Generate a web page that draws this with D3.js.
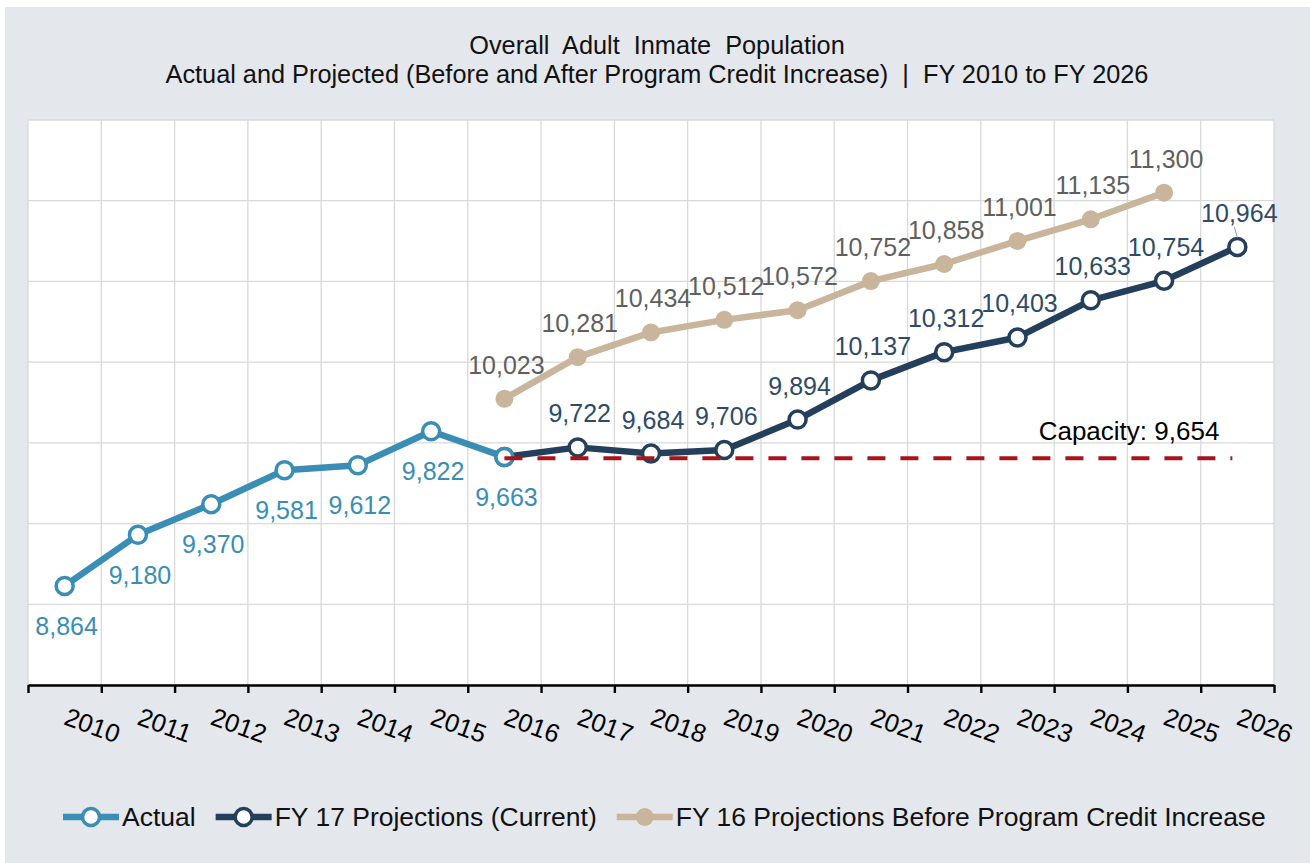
<!DOCTYPE html>
<html>
<head>
<meta charset="utf-8">
<script src="https://cdn.jsdelivr.net/npm/d3@7"></script>
<style>
  body { margin: 0; background: #ffffff; }
  text { font-family: "Liberation Sans", Arial, sans-serif; }
</style>
</head>
<body>
<div id="chart"></div>
<script>
// fiscal years on the x axis
var years = [2010, 2011, 2012, 2013, 2014, 2015, 2016, 2017, 2018, 2019, 2020, 2021, 2022, 2023, 2024, 2025, 2026];

// series values, keyed by year
var actualYears = [2010, 2011, 2012, 2013, 2014, 2015, 2016];
var actualValues = [8864, 9180, 9370, 9581, 9612, 9822, 9663];

var fy17Years = [2016, 2017, 2018, 2019, 2020, 2021, 2022, 2023, 2024, 2025, 2026];
var fy17Values = [9663, 9722, 9684, 9706, 9894, 10137, 10312, 10403, 10633, 10754, 10964];

var fy16Years = [2016, 2017, 2018, 2019, 2020, 2021, 2022, 2023, 2024, 2025];
var fy16Values = [10023, 10281, 10434, 10512, 10572, 10752, 10858, 11001, 11135, 11300];

var capacity = 9654;
var capacityYears = [2016, 2026];

var titleLines = ["Overall  Adult  Inmate  Population",
    "Actual and Projected (Before and After Program Credit Increase)  |  FY 2010 to FY 2026"];
var legendNames = ["Actual", "FY 17 Projections (Current)", "FY 16 Projections Before Program Credit Increase"];

var W = 1310, H = 863;
var plot = {left: 28, right: 1274, top: 120, bottom: 685};

var actualColor = "#3a8db5";
var fy17Color = "#243f5c";
var fy16Color = "#c8b59c";
var capColor = "#a8141b";
var gridColor = "#d9d9d9";
var fmt = d3.format(",");

var svg = d3.select("#chart").append("svg")
    .attr("width", W)
    .attr("height", H);

// outer chart area
svg.append("rect")
    .attr("x", 5).attr("y", 7)
    .attr("width", W - 5).attr("height", H - 7)
    .style("fill", "#e4e7ec");

svg.append("rect")
    .attr("x", plot.left).attr("y", plot.top)
    .attr("width", plot.right - plot.left)
    .attr("height", plot.bottom - plot.top)
    .style("fill", "#ffffff");

var x = d3.scaleBand().domain(years).range([plot.left, plot.right]).padding(0);
var cx = function(yr) { return x(yr) + x.bandwidth() / 2; };
var y = d3.scaleLinear().domain([8250, 11750]).range([plot.bottom, plot.top]);
var xEdge = d3.scaleLinear().domain([0, years.length]).range([plot.left, plot.right]);

// gridlines
svg.append("g").selectAll("line")
    .data(d3.range(8250, 11751, 500))
    .enter().append("line")
    .attr("x1", plot.left).attr("x2", plot.right)
    .attr("y1", function(d) { return y(d); })
    .attr("y2", function(d) { return y(d); })
    .style("stroke", gridColor).style("stroke-width", 1.3);

svg.append("g").selectAll("line")
    .data(d3.range(0, years.length + 1))
    .enter().append("line")
    .attr("x1", function(d) { return xEdge(d); })
    .attr("x2", function(d) { return xEdge(d); })
    .attr("y1", plot.top).attr("y2", plot.bottom)
    .style("stroke", gridColor).style("stroke-width", 1.3);

// x axis, ticks between categories
var axis = svg.append("g")
    .attr("transform", "translate(0," + plot.bottom + ")")
    .call(d3.axisBottom(xEdge).ticks(years.length).tickFormat("").tickSizeInner(8).tickSizeOuter(0));
axis.select(".domain").style("stroke", "#000").style("stroke-width", 2.6);
axis.selectAll(".tick line").style("stroke", "#000").style("stroke-width", 2.4);

svg.append("g").selectAll("text")
    .data(years)
    .enter().append("text")
    .attr("transform", function(d) { return "translate(" + (cx(d) - 2) + "," + (plot.bottom + 39) + ") rotate(20)"; })
    .style("font-size", "25.5px")
    .style("fill", "#000")
    .text(function(d) { return d; });

// title
svg.append("g").selectAll("text")
    .data(titleLines)
    .enter().append("text")
    .attr("x", 657)
    .attr("y", function(d, i) { return 54 + i * 29; })
    .attr("text-anchor", "middle")
    .style("font-size", "25.3px")
    .style("fill", "#111")
    .style("white-space", "pre")
    .text(function(d) { return d; });

var line = d3.line()
    .x(function(d) { return cx(d[0]); })
    .y(function(d) { return y(d[1]); });

function drawSeries(yrs, vals, color, opts) {
    var pts = yrs.map(function(yr, i) { return [yr, vals[i]]; });
    var g = svg.append("g");
    g.append("path")
        .datum(pts)
        .attr("d", line)
        .style("fill", "none")
        .style("stroke", color)
        .style("stroke-width", 6.5)
        .style("stroke-linejoin", "round");
    g.selectAll("circle")
        .data(pts)
        .enter().append("circle")
        .attr("cx", function(d) { return cx(d[0]); })
        .attr("cy", function(d) { return y(d[1]); })
        .attr("r", opts.filled ? 9 : 8.5)
        .style("fill", opts.filled ? color : "#fff")
        .style("stroke", color)
        .style("stroke-width", opts.filled ? 0 : 3.5);
    return pts;
}

function drawLabels(pts, color, dy) {
    svg.append("g").selectAll("text")
        .data(pts)
        .enter().append("text")
        .attr("x", function(d) { return cx(d[0]) + 2; })
        .attr("y", function(d) { return y(d[1]) + dy; })
        .attr("text-anchor", "middle")
        .style("font-size", "25px")
        .style("fill", color)
        .text(function(d) { return fmt(d[1]); });
}

var p16 = drawSeries(fy16Years, fy16Values, fy16Color, {filled: true});
var p17 = drawSeries(fy17Years, fy17Values, fy17Color, {filled: false});
var pAct = drawSeries(actualYears, actualValues, actualColor, {filled: false});

// capacity reference line
svg.append("line")
    .attr("x1", cx(capacityYears[0])).attr("x2", cx(capacityYears[1]) - 5)
    .attr("y1", y(capacity)).attr("y2", y(capacity))
    .style("stroke", capColor)
    .style("stroke-width", 4)
    .style("stroke-dasharray", "18,15");

svg.append("text")
    .attr("x", cx(capacityYears[1]) - 18)
    .attr("y", y(capacity) - 18)
    .attr("text-anchor", "end")
    .style("font-size", "26px")
    .style("fill", "#000")
    .text("Capacity: " + fmt(capacity));

drawLabels(p16, "#5f5f5f", -25);
drawLabels(p17.slice(1), "#2e4a68", -25);
drawLabels(pAct, actualColor, 49);

// thin leader from the last projection label to its point
var last17 = p17[p17.length - 1];
svg.append("line")
    .attr("x1", cx(last17[0]) - 3).attr("x2", cx(last17[0]))
    .attr("y1", y(last17[1]) - 20).attr("y2", y(last17[1]) - 9)
    .style("stroke", "#9a9a9a").style("stroke-width", 1);

// legend
var legendItems = [
    {name: legendNames[0], color: actualColor, filled: false},
    {name: legendNames[1], color: fy17Color, filled: false},
    {name: legendNames[2], color: fy16Color, filled: true}
];
var lx = 63, ly = 817;
legendItems.forEach(function(item) {
    var g = svg.append("g");
    g.append("line")
        .attr("x1", lx).attr("x2", lx + 56)
        .attr("y1", ly).attr("y2", ly)
        .style("stroke", item.color).style("stroke-width", 6.5);
    g.append("circle")
        .attr("cx", lx + 28).attr("cy", ly)
        .attr("r", item.filled ? 9 : 8.5)
        .style("fill", item.filled ? item.color : "#fff")
        .style("stroke", item.color)
        .style("stroke-width", item.filled ? 0 : 3.5);
    var t = g.append("text")
        .attr("x", lx + 59)
        .attr("y", ly + 9)
        .style("font-size", "26.5px")
        .style("fill", "#111")
        .text(item.name);
    lx = lx + 59 + t.node().getComputedTextLength() + 20;
});
</script>
</body>
</html>
